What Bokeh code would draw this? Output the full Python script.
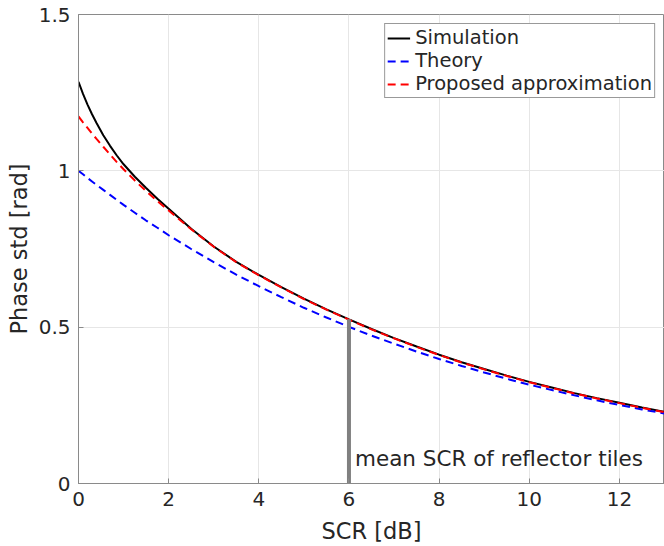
from bokeh.plotting import figure
from bokeh.models import Range1d, FixedTicker, Legend, LegendItem, Label
from bokeh.embed import file_html
from bokeh.resources import INLINE

# ---- data ----
scr_db = [0, 0.1, 0.2, 0.3, 0.4, 0.55, 0.7, 0.85, 1.0, 1.25, 1.5, 1.75, 2,
          2.5, 3, 3.5, 4, 4.5, 5, 5.5, 6, 6.5, 7, 7.5, 8, 8.5, 9, 9.5, 10,
          10.5, 11, 11.5, 12, 12.5, 13]
simulation = [1.285, 1.246, 1.212, 1.181, 1.153, 1.114, 1.080, 1.049, 1.021, 0.981,
              0.945, 0.911, 0.879,
              0.815, 0.758, 0.709, 0.667, 0.628, 0.591, 0.557, 0.525, 0.494, 0.465,
              0.438, 0.412, 0.388, 0.366, 0.345, 0.325, 0.307, 0.289, 0.273, 0.258,
              0.243, 0.229]
theory = [1.000, 0.989, 0.977, 0.966, 0.955, 0.939, 0.923, 0.907, 0.891, 0.866,
          0.841, 0.818, 0.794,
          0.750, 0.708, 0.668, 0.631, 0.596, 0.562, 0.531, 0.501, 0.473, 0.447,
          0.422, 0.398, 0.376, 0.355, 0.335, 0.316, 0.299, 0.282, 0.266, 0.251,
          0.237, 0.224]
proposed = [1.174, 1.155, 1.137, 1.119, 1.102, 1.077, 1.052, 1.028, 1.005, 0.969,
            0.935, 0.903, 0.873,
            0.813, 0.757, 0.708, 0.666, 0.627, 0.590, 0.556, 0.524, 0.493, 0.464,
            0.437, 0.411, 0.387, 0.365, 0.344, 0.324, 0.306, 0.288, 0.272, 0.257,
            0.242, 0.228]

mean_scr_x = [6]
mean_scr_bottom = [0]
mean_scr_top = [0.525]
annotation = "mean SCR of reflector tiles"
annotation_y = 0.079

x_ticks = [0, 2, 4, 6, 8, 10, 12]
y_ticks = [0, 0.5, 1, 1.5]
y_tick_labels = {0: "0", 0.5: "0.5", 1: "1", 1.5: "1.5"}

FONT = "DejaVu Sans"
TXT = "#262626"
AX = "#8a8a8a"

p = figure(width=664, height=546, output_backend="svg", toolbar_location=None,
           x_range=Range1d(0, 13), y_range=Range1d(0, 1.5),
           min_border_left=78, min_border_right=0, min_border_top=14,
           min_border_bottom=62)
p.outline_line_color = AX
p.outline_line_width = 1

for ax in (p.xaxis[0], p.yaxis[0]):
    ax.axis_line_color = AX
    ax.major_tick_line_color = AX
    ax.major_tick_in = 5
    ax.major_tick_out = 0
    ax.minor_tick_line_color = None
    ax.major_label_text_font = FONT
    ax.major_label_text_font_size = "20px"
    ax.major_label_text_color = TXT
    ax.axis_label_text_font = FONT
    ax.axis_label_text_font_size = "22.5px"
    ax.axis_label_text_font_style = "normal"
    ax.axis_label_text_color = TXT
    ax.major_label_standoff = 8

p.xaxis[0].ticker = FixedTicker(ticks=x_ticks)
p.yaxis[0].ticker = FixedTicker(ticks=y_ticks)
p.yaxis[0].major_label_overrides = y_tick_labels
p.xaxis[0].axis_label = "SCR [dB]"
p.yaxis[0].axis_label = "Phase std [rad]"
p.xaxis[0].axis_label_standoff = 9
p.yaxis[0].axis_label_standoff = 4

p.xgrid.ticker = FixedTicker(ticks=x_ticks)
p.ygrid.ticker = FixedTicker(ticks=y_ticks)
p.grid.grid_line_color = "#e6e6e6"
p.grid.grid_line_width = 1

r_sim = p.line(scr_db, simulation, line_color="black", line_width=2)
r_th = p.line(scr_db, theory, line_color="#0000ff", line_width=2, line_dash="8 5")
r_pr = p.line(scr_db, proposed, line_color="#ff0000", line_width=2, line_dash="8 5")

p.segment(x0=mean_scr_x, y0=mean_scr_bottom, x1=mean_scr_x, y1=mean_scr_top,
          line_color="#808080", line_width=4)

p.add_layout(Label(x=mean_scr_x[0], y=annotation_y, x_offset=6, text=annotation,
                   text_font=FONT, text_font_size="21.5px", text_color=TXT,
                   text_baseline="alphabetic"))

legend = Legend(items=[LegendItem(label="Simulation", renderers=[r_sim]),
                       LegendItem(label="Theory", renderers=[r_th]),
                       LegendItem(label="Proposed approximation", renderers=[r_pr])],
                location="top_right")
legend.margin = 9
legend.padding = 2
legend.spacing = 0
legend.glyph_width = 23
legend.glyph_height = 22
legend.label_height = 22
legend.label_standoff = 5
legend.label_text_font = FONT
legend.label_text_font_size = "19.5px"
legend.label_text_color = TXT
legend.border_line_color = "#333333"
legend.border_line_width = 1
legend.background_fill_color = "white"
legend.background_fill_alpha = 1
p.add_layout(legend)

open("out.html", "w").write(file_html(p, INLINE))
